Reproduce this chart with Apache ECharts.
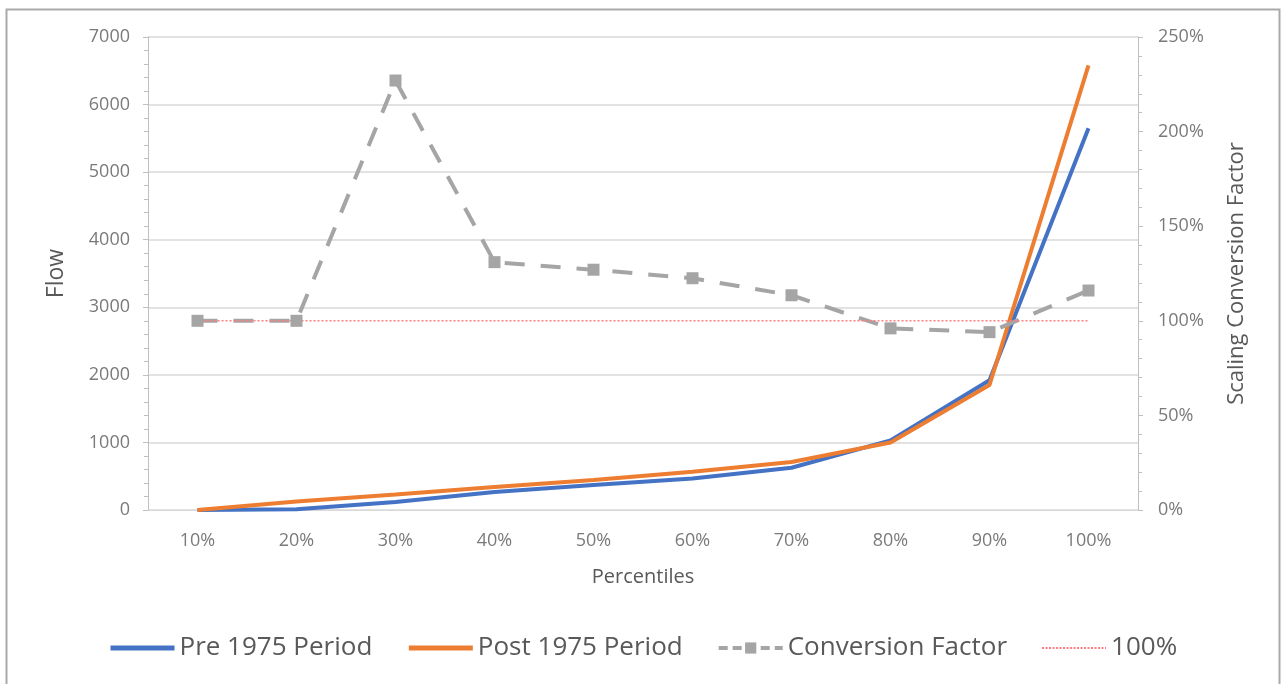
<!DOCTYPE html>
<html>
<head>
<meta charset="utf-8">
<script src="https://cdn.jsdelivr.net/npm/echarts@6/dist/echarts.min.js"></script>
<style>
html,body{margin:0;padding:0;background:#fff;}
#chart{width:1284px;height:684px;}
</style>
</head>
<body>
<div id="chart"></div>
<script>
const categories = ['10%','20%','30%','40%','50%','60%','70%','80%','90%','100%'];
const pre1975 = [0, 10, 120, 265, 370, 465, 625, 1030, 1920, 5650];
const post1975 = [0, 125, 230, 340, 445, 565, 710, 1000, 1850, 6580];
const conversionFactor = [100, 100, 227, 131, 127, 122.5, 113.5, 96, 94, 116];
const referenceLine = [100, 100, 100, 100, 100, 100, 100, 100, 100, 100];

const chart = echarts.init(document.getElementById('chart'));
const FONT = 'Open Sans';
const labelColor = '#7a7a7a';
const nameColor = '#595959';

chart.setOption({
  animation: false,
  backgroundColor: '#fff',
  textStyle: { fontFamily: FONT },
  graphic: [{
    type: 'rect', left: 4, top: 7, silent: true,
    shape: { width: 1273, height: 690 },
    style: { fill: 'none', stroke: '#a9a9a9', lineWidth: 2 }
  }],
  grid: { left: 148, right: 146, top: 37, bottom: 174, containLabel: false },
  legend: {
    left: 103, top: 630,
    itemWidth: 64, itemHeight: 14, itemGap: 34,
    textStyle: { fontFamily: FONT, fontSize: 26, color: nameColor },
    data: [
      { name: 'Pre 1975 Period', itemStyle: { opacity: 0 }, lineStyle: { width: 5 } },
      { name: 'Post 1975 Period', itemStyle: { opacity: 0 }, lineStyle: { width: 5 } },
      { name: 'Conversion Factor', lineStyle: { width: 4, type: [9, 5] } },
      { name: '100%', itemStyle: { opacity: 0 }, lineStyle: { width: 2, type: [2, 1.5] } }
    ]
  },
  xAxis: {
    type: 'category', data: categories, boundaryGap: true,
    name: 'Percentiles', nameLocation: 'middle', nameGap: 57,
    nameTextStyle: { fontFamily: FONT, fontSize: 20, color: nameColor },
    axisLine: { lineStyle: { color: '#d9d9d9', width: 1 } },
    axisTick: { show: false },
    axisLabel: { color: labelColor, fontSize: 18, margin: 22, fontFamily: FONT }
  },
  yAxis: [{
    type: 'value', min: 0, max: 7000, interval: 1000,
    name: 'Flow', nameLocation: 'middle', nameGap: 80, nameRotate: 90,
    nameTextStyle: { fontFamily: FONT, fontSize: 23, color: nameColor },
    axisLine: { show: true, lineStyle: { color: '#bfbfbf' } },
    axisTick: { show: true, length: 5, lineStyle: { color: '#bfbfbf' } },
    minorTick: { show: true, splitNumber: 5, length: 4, lineStyle: { color: '#bfbfbf' } },
    splitLine: { lineStyle: { color: '#d9d9d9', width: 1.5 } },
    axisLabel: { color: labelColor, fontSize: 18, margin: 18, fontFamily: FONT,
      formatter: function (v) { return String(v); } }
  }, {
    type: 'value', min: 0, max: 250, interval: 50, position: 'right',
    name: 'Scaling Conversion Factor', nameLocation: 'middle', nameGap: 88, nameRotate: 90,
    nameTextStyle: { fontFamily: FONT, fontSize: 22, color: nameColor },
    axisLine: { show: true, lineStyle: { color: '#bfbfbf' } },
    axisTick: { show: true, length: 5, lineStyle: { color: '#bfbfbf' } },
    minorTick: { show: true, splitNumber: 5, length: 4, lineStyle: { color: '#bfbfbf' } },
    splitLine: { show: false },
    axisLabel: { color: labelColor, fontSize: 18, margin: 20, fontFamily: FONT, formatter: '{value}%' }
  }],
  series: [{
    name: 'Pre 1975 Period', type: 'line', data: pre1975, yAxisIndex: 0,
    symbol: 'none', lineStyle: { color: '#4472C4', width: 4 }, itemStyle: { color: '#4472C4' }
  }, {
    name: 'Post 1975 Period', type: 'line', data: post1975, yAxisIndex: 0,
    symbol: 'none', lineStyle: { color: '#ED7D31', width: 4 }, itemStyle: { color: '#ED7D31' }
  }, {
    name: 'Conversion Factor', type: 'line', data: conversionFactor, yAxisIndex: 1,
    symbol: 'rect', symbolSize: 12, showSymbol: true,
    lineStyle: { color: '#a5a5a5', width: 4, type: [20, 16] },
    itemStyle: { color: '#a5a5a5' }
  }, {
    name: '100%', type: 'line', data: referenceLine, yAxisIndex: 1,
    symbol: 'none', lineStyle: { color: '#ff7c80', width: 1.5, type: [2, 2] },
    itemStyle: { color: '#ff7c80' }
  }]
});
</script>
</body>
</html>
